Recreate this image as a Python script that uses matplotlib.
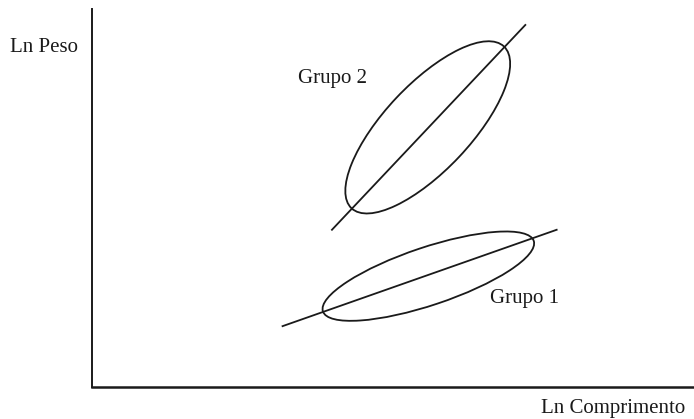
import matplotlib
matplotlib.use("Agg")
import matplotlib.pyplot as plt
from matplotlib.patches import Ellipse

plt.rcParams["font.family"] = ["Liberation Serif", "DejaVu Serif"]

# schematic values, in plot units (x: 0-100)
groups = ["Grupo 1", "Grupo 2"]
line_x = [[31.7, 77.2], [39.9, 72.0]]
line_y = [[10.1, 26.1], [26.1, 60.1]]
ell_center = [(55.9, 18.4), (55.8, 43.1)]
ell_width = [36.9, 36.9]
ell_height = [9.6, 14.3]
ell_angle = [18.5, 46.7]
label_pos = [(66.1, 13.9), (34.3, 50.5)]

xlabel = "Ln Comprimento"
ylabel = "Ln Peso"

W, H = 694, 419
fig = plt.figure(figsize=(W / 100, H / 100), dpi=100)
ax = fig.add_axes([91.6 / W, (H - 387) / H, (W - 91.6) / W, 378 / H])
ax.set_xlim(0, 100)
ax.set_ylim(0, 378 / 6.024)

ink = "#1a1a1a"
for i, g in enumerate(groups):
    ax.plot(line_x[i], line_y[i], color=ink, lw=1.3)
    ax.add_patch(Ellipse(ell_center[i], ell_width[i], ell_height[i],
                         angle=ell_angle[i], fill=False, ec=ink, lw=1.3))
    ax.text(label_pos[i][0], label_pos[i][1], g, fontsize=15,
            color=ink, va="baseline", ha="left")

ax.text(-13.55, 55.66, ylabel, fontsize=15, color=ink,
        va="baseline", ha="left")
ax.text(98.5, -4.27, xlabel, fontsize=15, color=ink,
        va="baseline", ha="right")

for s in ["top", "right"]:
    ax.spines[s].set_visible(False)
ax.spines["left"].set_linewidth(1.4)
ax.spines["bottom"].set_linewidth(1.8)
for s in ["left", "bottom"]:
    ax.spines[s].set_color(ink)
ax.set_xticks([])
ax.set_yticks([])

fig.savefig("out.png", dpi=100)
